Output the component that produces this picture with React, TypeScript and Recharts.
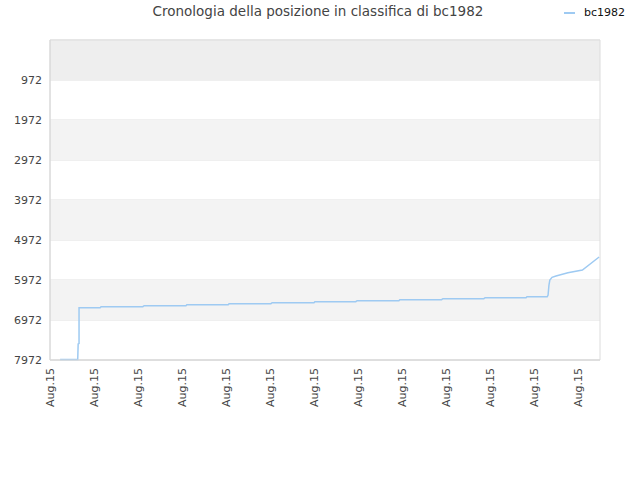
import React from "react"
import { LineChart, Line, XAxis, YAxis, CartesianGrid, ReferenceArea } from "recharts"

// x position in tick units (one tick per Aug.15 label), y = ranking position
const times = [
  0.23, 0.63, 0.64, 0.66, 0.66, 1.14, 1.16, 2.11, 2.14, 3.09, 3.11, 4.05, 4.07,
  5.02, 5.05, 6.0, 6.02, 6.95, 6.98, 7.93, 7.95, 8.9, 8.93, 9.86, 9.89, 10.82,
  10.84, 11.3, 11.32, 11.34, 11.36, 11.41, 11.5, 11.77, 12.1, 12.48,
]
const ranks = [
  7960, 7960, 7570, 7560, 6665, 6665, 6640, 6640, 6615, 6615, 6590, 6590, 6565,
  6565, 6540, 6540, 6515, 6515, 6490, 6490, 6465, 6465, 6440, 6440, 6415, 6415,
  6390, 6390, 6347, 6097, 5972, 5905, 5872, 5790, 5722, 5397,
]
const yTicks = [972, 1972, 2972, 3972, 4972, 5972, 6972, 7972]
const xTicks = [0, 1, 2, 3, 4, 5, 6, 7, 8, 9, 10, 11, 12]
const xTickLabels = ["Aug.15", "Aug.15", "Aug.15", "Aug.15", "Aug.15", "Aug.15", "Aug.15", "Aug.15", "Aug.15", "Aug.15", "Aug.15", "Aug.15", "Aug.15"]

const data = times.map((t, i) => ({ t, bc1982: ranks[i] }))

const font = "'DejaVu Sans', sans-serif"

function XTick(props: any) {
  const { x, y, index } = props
  return (
    <text
      transform={`translate(${x},${y}) rotate(-90)`}
      textAnchor="end"
      dy="0.35em"
      fontSize={11}
      fontFamily={font}
      fill="#444"
    >
      {xTickLabels[index]}
    </text>
  )
}

export default function App() {
  return (
    <div style={{ position: "absolute", left: 0, top: 0, width: 640, height: 480, background: "#fff" }}>
      <div
        style={{
          position: "absolute",
          top: 3,
          left: 0,
          width: 636,
          textAlign: "center",
          fontFamily: font,
          fontSize: 13.5,
          color: "#444",
          zIndex: 1,
        }}
      >
        Cronologia della posizione in classifica di bc1982
      </div>
      <div
        style={{
          position: "absolute",
          top: 6,
          left: 564,
          display: "flex",
          alignItems: "center",
          fontFamily: font,
          fontSize: 11,
          color: "#111",
          zIndex: 1,
        }}
      >
        <span style={{ display: "inline-block", width: 11, height: 2, background: "#9ecaf2", marginRight: 9 }} />
        bc1982
      </div>
      <LineChart width={640} height={480} data={data} margin={{ top: 40, right: 40, bottom: 0, left: 0 }}>
        <ReferenceArea y1={-28} y2={972} fill="#eeeeee" fillOpacity={1} stroke="none" />
        <ReferenceArea y1={1972} y2={2972} fill="#f3f3f3" fillOpacity={1} stroke="none" />
        <ReferenceArea y1={3972} y2={4972} fill="#f3f3f3" fillOpacity={1} stroke="none" />
        <ReferenceArea y1={5972} y2={6972} fill="#f3f3f3" fillOpacity={1} stroke="none" />
        <CartesianGrid vertical={false} stroke="#e0e0e0" strokeDasharray="" />
        <ReferenceArea y1={-28} y2={7972} fill="none" stroke="#dcdcdc" strokeWidth={1} />
        <XAxis
          type="number"
          dataKey="t"
          domain={[0, 12.5]}
          ticks={xTicks}
          interval={0}
          height={120}
          tickLine={false}
          tickSize={0}
          tickMargin={8}
          stroke="#d8d8d8"
          tick={<XTick />}
        />
        <YAxis
          reversed
          type="number"
          domain={[-28, 7972]}
          ticks={yTicks}
          interval={0}
          width={50}
          tickLine={false}
          tickSize={0}
          tickMargin={8}
          stroke="#d8d8d8"
          tick={{ fontSize: 11, fontFamily: font, fill: "#444" }}
        />
        <Line
          type="linear"
          dataKey="bc1982"
          stroke="#9ecaf2"
          strokeWidth={1.5}
          dot={false}
          isAnimationActive={false}
        />
      </LineChart>
    </div>
  )
}
